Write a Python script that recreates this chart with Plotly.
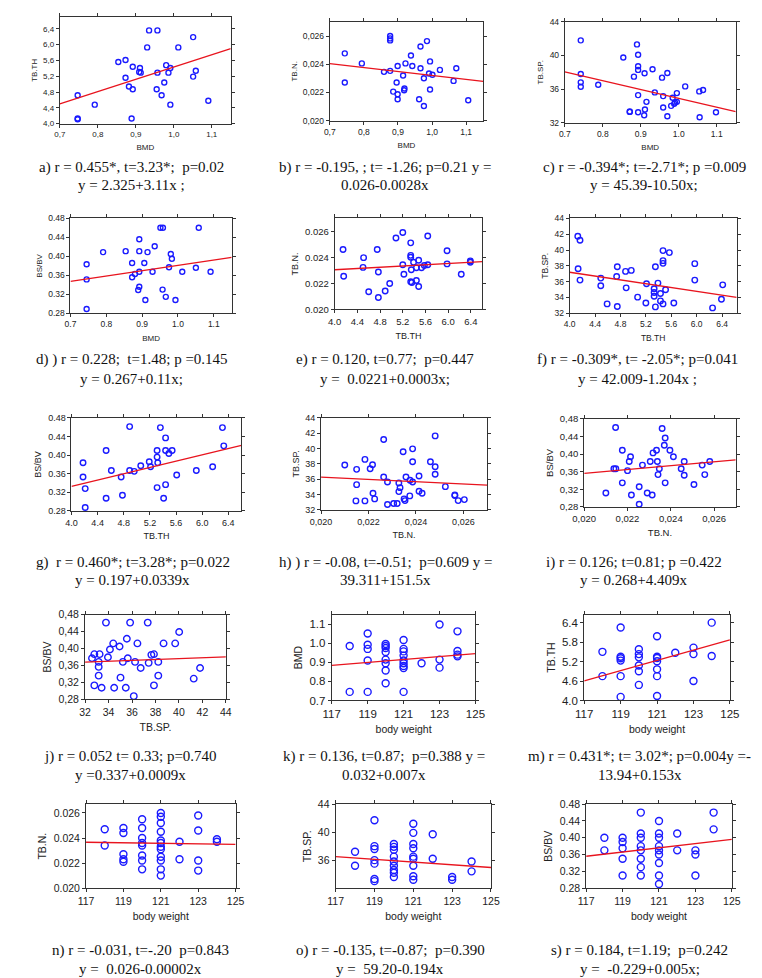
import plotly.graph_objects as go

W, H = 762, 978

# ---------------- data ----------------
# a) BMD vs TB.TH
a_x = [0.747, 0.747, 0.747, 0.792, 0.854, 0.873, 0.873, 0.882, 0.892, 0.892, 0.889, 0.909, 0.911, 0.913, 0.930,
       0.935, 0.957, 0.957, 0.955, 0.968, 0.975, 0.980, 0.986, 0.991, 0.991, 1.012, 1.051, 1.051, 1.058, 1.091]
a_y = [4.72, 4.13, 4.11, 4.48, 5.56, 5.61, 5.16, 4.94, 5.44, 4.87, 4.13, 5.31, 5.41, 5.29, 5.93,
       6.36, 6.36, 5.29, 4.87, 4.72, 5.04, 5.48, 5.29, 5.41, 4.48, 5.93, 6.19, 5.19, 5.34, 4.58]
# b) BMD vs TB.N.
b_x = [0.744, 0.744, 0.794, 0.859, 0.877, 0.877, 0.877, 0.877, 0.886, 0.896, 0.899, 0.899, 0.899, 0.915, 0.918,
       0.919, 0.922, 0.938, 0.942, 0.962, 0.966, 0.966, 0.976, 0.985, 0.991, 0.994, 0.994, 1.001, 0.976, 1.023,
       1.063, 1.071, 1.106]
b_y = [0.02477, 0.02270, 0.02406, 0.02346, 0.02600, 0.02583, 0.02569, 0.02353, 0.02206, 0.02270, 0.02387, 0.02187,
       0.02152, 0.02320, 0.02216, 0.02228, 0.02406, 0.02462, 0.02387, 0.02152, 0.02526, 0.02372, 0.02301, 0.02564,
       0.02334, 0.02420, 0.02221, 0.02325, 0.02104, 0.02360, 0.02282, 0.02372, 0.02145]
# c) BMD vs TB.SP.
c_x = [0.742, 0.742, 0.742, 0.742, 0.788, 0.854, 0.882, 0.890, 0.893, 0.893, 0.893, 0.893, 0.871, 0.871, 0.893,
       0.910, 0.911, 0.909, 0.915, 0.931, 0.937, 0.956, 0.959, 0.959, 0.970, 0.970, 0.980, 0.984, 0.988, 0.990,
       0.995, 0.995, 1.017, 1.054, 1.064, 1.055, 1.098]
c_y = [41.8, 37.8, 36.8, 36.28, 36.52, 39.76, 37.48, 41.32, 40.08, 38.72, 38.28, 35.28, 33.28, 33.32, 33.24,
       37.88, 33.56, 32.88, 34.48, 38.36, 35.6, 37.36, 35.16, 33.8, 37.92, 32.76, 34.0, 34.96, 34.24, 34.4,
       34.48, 35.52, 36.32, 35.72, 35.88, 32.64, 33.24]
# d) BMD vs BS/BV
d_x = [0.745, 0.745, 0.745, 0.791, 0.854, 0.872, 0.872, 0.880, 0.889, 0.892, 0.892, 0.892, 0.892, 0.906, 0.909,
       0.915, 0.929, 0.935, 0.951, 0.958, 0.957, 0.966, 0.975, 0.980, 0.983, 0.993, 1.012, 1.050, 1.058, 1.091]
d_y = [0.3835, 0.3515, 0.289, 0.409, 0.411, 0.386, 0.356, 0.363, 0.329, 0.336, 0.3675, 0.411, 0.436, 0.386, 0.308,
       0.409, 0.3675, 0.4215, 0.4605, 0.4605, 0.330, 0.3147, 0.377, 0.405, 0.395, 0.308, 0.3675, 0.376, 0.4605, 0.3675]
# e) TB.TH vs TB.N.
e_x = [4.148, 4.159, 4.50, 4.51, 4.60, 4.75, 4.77, 4.77, 4.89, 4.97, 5.08, 5.20, 5.20, 5.22, 5.34, 5.34, 5.34,
       5.34, 5.36, 5.35, 5.39, 5.44, 5.44, 5.48, 5.48, 5.53, 5.58, 5.64, 5.64, 5.98, 5.98, 6.23, 6.39, 6.39]
e_y = [0.02461, 0.02255, 0.02323, 0.02398, 0.02136, 0.02461, 0.02287, 0.02091, 0.02141, 0.02199, 0.02550, 0.02592,
       0.02343, 0.02270, 0.02512, 0.02416, 0.02401, 0.02212, 0.02207, 0.02305, 0.02363, 0.02320, 0.02222, 0.02378,
       0.02176, 0.02320, 0.02338, 0.02343, 0.02565, 0.02451, 0.02350, 0.02270, 0.02373, 0.02363]
# f) TB.TH vs TB.SP.
f_x = [4.128, 4.163, 4.133, 4.163, 4.49, 4.49, 4.59, 4.74, 4.75, 4.75, 4.88, 4.89, 4.97, 5.07, 5.20, 5.21, 5.33,
       5.33, 5.33, 5.35, 5.35, 5.39, 5.43, 5.43, 5.47, 5.47, 5.47, 5.47, 5.51, 5.57, 5.64, 5.97, 5.97, 6.25, 6.39, 6.41]
f_y = [41.75, 41.25, 37.64, 36.2, 36.45, 35.48, 33.19, 36.66, 37.89, 32.85, 37.3, 35.22, 37.43, 34.04, 33.31, 35.73,
       35.1, 34.63, 34.16, 37.89, 32.81, 35.82, 34.5, 33.57, 39.93, 38.66, 38.32, 33.19, 34.97, 39.68, 33.31, 38.28,
       36.2, 32.68, 33.78, 35.6]
# g) TB.TH vs BS/BV
g_x = [4.177, 4.177, 4.21, 4.21, 4.53, 4.53, 4.61, 4.76, 4.78, 4.89, 4.89, 4.96, 5.06, 5.19, 5.21, 5.31, 5.31,
       5.31, 5.32, 5.36, 5.41, 5.44, 5.44, 5.44, 5.49, 5.54, 5.61, 5.91, 6.16, 6.31, 6.33]
g_y = [0.3836, 0.3529, 0.3279, 0.2871, 0.410, 0.3071, 0.367, 0.3529, 0.3136, 0.4614, 0.367, 0.365, 0.377, 0.3857,
       0.375, 0.410, 0.3957, 0.330, 0.3836, 0.4593, 0.3071, 0.4371, 0.410, 0.3364, 0.4036, 0.410, 0.3571, 0.367,
       0.375, 0.4593, 0.420]
# h) TB.N. vs TB.SP.
h_x = [0.0210, 0.02147, 0.0215, 0.0215, 0.02185, 0.02185, 0.02207, 0.02217, 0.02219, 0.02226, 0.02264, 0.02264,
       0.0228, 0.0228, 0.02306, 0.02321, 0.02328, 0.02328, 0.02333, 0.02346, 0.0235, 0.02354, 0.02358, 0.02374,
       0.02375, 0.02386, 0.02386, 0.02386, 0.02413, 0.02413, 0.02426, 0.02461, 0.02481, 0.02481, 0.02481, 0.02524,
       0.02564, 0.02564, 0.02578, 0.02604]
h_y = [37.85, 33.17, 35.29, 37.29, 33.17, 38.59, 37.37, 37.89, 34.17, 33.43, 41.19, 36.29, 35.64, 32.69, 32.82,
       32.82, 35.51, 34.38, 34.9, 39.58, 33.43, 33.21, 36.29, 33.82, 35.86, 39.97, 38.28, 35.64, 36.42, 34.43, 34.17,
       38.28, 41.66, 37.63, 36.64, 35.03, 33.95, 33.86, 33.21, 33.34]
# i) TB.N. vs BS/BV
i_x = [0.0210, 0.02137, 0.02146, 0.02145, 0.02176, 0.02176, 0.0220, 0.02208, 0.02214, 0.02218, 0.02254, 0.02254,
       0.02269, 0.02291, 0.02305, 0.02314, 0.02318, 0.02334, 0.02338, 0.02341, 0.02347, 0.0236, 0.0237, 0.02374,
       0.02374, 0.02396, 0.02412, 0.02448, 0.02462, 0.02462, 0.02507, 0.02545, 0.02557, 0.0258]
i_y = [0.3115, 0.3669, 0.3669, 0.4605, 0.3347, 0.4088, 0.3624, 0.3834, 0.3939, 0.307, 0.286, 0.3257, 0.3751, 0.3115,
       0.3834, 0.307, 0.4028, 0.4088, 0.3834, 0.3534, 0.3669, 0.4583, 0.4201, 0.4366, 0.3347, 0.4088, 0.3939, 0.3669,
       0.3834, 0.3519, 0.3309, 0.3751, 0.3534, 0.3834]
# j) TB.SP. vs BS/BV
j_x = [32.59, 32.79, 32.79, 33.16, 33.16, 33.16, 33.24, 33.41, 33.78, 33.95, 34.12, 34.40, 34.48, 34.94, 35.02,
       35.22, 35.47, 35.56, 35.64, 35.84, 36.15, 36.26, 36.46, 36.74, 37.34, 37.42, 37.65, 37.87, 37.87, 38.24,
       38.24, 38.69, 39.68, 40.02, 41.26, 41.80]
j_y = [0.3772, 0.3867, 0.3132, 0.3685, 0.3567, 0.3361, 0.3867, 0.3077, 0.461, 0.3796, 0.3978, 0.412, 0.3077, 0.4049,
       0.3314, 0.3685, 0.3077, 0.4231, 0.3772, 0.461, 0.2879, 0.3685, 0.412, 0.3543, 0.461, 0.3662, 0.3851, 0.3867,
       0.3132, 0.3361, 0.3685, 0.412, 0.412, 0.4389, 0.329, 0.3543]
# k) body weight vs BMD
k_x = [118, 118, 119, 119, 119, 119, 119, 120, 120, 120, 120, 120, 120, 120, 120, 121, 121, 121, 121, 121, 121, 121,
       121, 121, 122, 123, 123, 123, 124, 124, 124, 124]
k_y = [0.985, 0.745, 1.051, 0.992, 0.970, 0.909, 0.745, 0.996, 0.985, 0.975, 0.954, 0.914, 0.895, 0.857, 0.790,
       1.017, 0.970, 0.957, 0.935, 0.909, 0.895, 0.881, 0.870, 0.745, 0.895, 1.098, 0.914, 0.872, 1.062, 0.959,
       0.940, 0.931]
# m) body weight vs TB.TH
m_x = [118, 118, 119, 119, 119, 119, 119, 119, 120, 120, 120, 120, 120, 120, 121, 121, 121, 121, 121, 121, 121,
       122, 123, 123, 123, 124, 124]
m_y = [5.50, 4.75, 6.25, 5.35, 5.30, 5.23, 4.75, 4.11, 5.58, 5.43, 5.33, 5.08, 4.90, 4.48, 5.98, 5.35, 5.31, 5.21,
       4.96, 4.75, 4.14, 5.47, 5.63, 5.43, 4.60, 6.40, 5.37]
# n) body weight vs TB.N.
n_x = [118, 118, 119, 119, 119, 119, 119, 120, 120, 120, 120, 120, 120, 120, 120, 121, 121, 121, 121, 121, 121,
       121, 121, 121, 121, 121, 121, 122, 122, 123, 123, 123, 123, 124, 124]
n_y = [0.0247, 0.0234, 0.0248, 0.0244, 0.0227, 0.0223, 0.0221, 0.0255, 0.0248, 0.0240, 0.0236, 0.0234, 0.0226,
       0.0222, 0.0215, 0.0260, 0.0257, 0.0252, 0.0245, 0.0238, 0.0236, 0.0233, 0.0231, 0.0225, 0.0222, 0.0215,
       0.0210, 0.0237, 0.0223, 0.0258, 0.0246, 0.0222, 0.0214, 0.0239, 0.0237]
# o) body weight vs TB.SP.
o_x = [118, 118, 119, 119, 119, 119, 119, 119, 119, 120, 120, 120, 120, 120, 120, 120, 120, 120, 121, 121, 121,
       121, 121, 121, 121, 121, 121, 122, 122, 123, 123, 124, 124]
o_y = [37.2, 35.2, 41.7, 38.0, 37.6, 36.0, 35.5, 33.3, 33.0, 38.3, 37.9, 37.5, 36.5, 35.8, 35.2, 34.6, 34.2, 33.6,
       41.2, 39.9, 38.3, 37.7, 36.5, 36.2, 35.2, 33.7, 33.2, 39.7, 36.2, 33.2, 33.6, 35.8, 34.4]
# s) body weight vs BS/BV
s_x = [118, 118, 119, 119, 119, 119, 119, 120, 120, 120, 120, 120, 120, 120, 120, 121, 121, 121, 121, 121, 121,
       121, 121, 121, 122, 122, 123, 123, 123, 124, 124]
s_y = [0.40, 0.37, 0.40, 0.39, 0.375, 0.35, 0.31, 0.46, 0.41, 0.40, 0.38, 0.37, 0.35, 0.33, 0.31, 0.44, 0.41,
       0.40, 0.38, 0.37, 0.36, 0.34, 0.31, 0.29, 0.41, 0.37, 0.37, 0.36, 0.31, 0.46, 0.42]

# fitted lines (intercept, slope) as drawn
fit_intercepts = [2.325, 0.026, 45.39, 0.268, 0.02208, 42.009, 0.197, 39.311, 0.268, 0.3355, -0.005, -13.82,
                  0.026, 59.20, -0.229]
fit_slopes = [3.11, -0.0028, -10.50, 0.113, 0.000242, -1.204, 0.0339, -151.5, 4.409, 0.00102, 0.0076, 0.1575,
              -0.00002, -0.194, 0.005]

captions = [
    ("a) r = 0.455*, t=3.23*;  p=0.02", "y = 2.325+3.11x ;"),
    ("b) r = -0.195, ; t= -1.26; p=0.21 y =", "0.026-0.0028x"),
    ("c) r = -0.394*; t=-2.71*; p =0.009", "y = 45.39-10.50x;"),
    ("d) ) r = 0.228;  t=1.48; p =0.145", "y = 0.267+0.11x;"),
    ("e) r = 0.120, t=0.77;  p=0.447", "y =  0.0221+0.0003x;"),
    ("f) r = -0.309*, t= -2.05*; p=0.041", "y = 42.009-1.204x ;"),
    ("g)  r = 0.460*; t=3.28*; p=0.022", "y = 0.197+0.0339x"),
    ("h) ) r = -0.08, t=-0.51;  p=0.609 y =", "39.311+151.5x"),
    ("i) r = 0.126; t=0.81; p =0.422", "y = 0.268+4.409x"),
    ("j) r = 0.052 t= 0.33; p=0.740", "y =0.337+0.0009x"),
    ("k) r = 0.136, t=0.87;  p=0.388 y =", "0.032+0.007x"),
    ("m) r = 0.431*; t= 3.02*; p=0.004y =-", "13.94+0.153x"),
    ("n) r = -0.031, t=-.20  p=0.843", "y =  0.026-0.00002x"),
    ("o) r = -0.135, t=-0.87;  p=0.390", "y =  59.20-0.194x"),
    ("s) r = 0.184, t=1.19;  p=0.242", "y =  -0.229+0.005x;"),
]

x_titles = ["BMD", "BMD", "BMD", "BMD", "TB.TH", "TB.TH", "TB.TH", "TB.N.", "TB.N.", "TB.SP.",
            "body weight", "body weight", "body weight", "body weight", "body weight"]
y_titles = ["TB.TH", "TB.N.", "TB.SP.", "BS/BV", "TB.N.", "TB.SP.", "BS/BV", "TB.SP.", "BS/BV", "BS/BV",
            "BMD", "TB.TH", "TB.N.", "TB.SP.", "BS/BV"]

xs = [a_x, b_x, c_x, d_x, e_x, f_x, g_x, h_x, i_x, j_x, k_x, m_x, n_x, o_x, s_x]
ys = [a_y, b_y, c_y, d_y, e_y, f_y, g_y, h_y, i_y, j_y, k_y, m_y, n_y, o_y, s_y]

# ---------------- layout / style ----------------
# pixel box of each plot area: left, right, top, bottom
boxes = [(41, 217, 3, 111), (319, 477, 8, 108), (561, 737, 8, 110),
         (52, 218, 207, 303), (324, 476, 207, 299), (566, 738, 207, 303),
         (53, 228, 409, 503), (310, 481, 409, 502), (581, 737, 410, 499),
         (67, 212, 608, 694), (321, 469, 608, 695), (581, 731, 608, 695),
         (68, 222, 800, 885), (325, 485, 800, 885), (583, 733, 800, 885)]
# x axis: range, tick start, tick end, step, decimals, comma
xax = [((0.7, 1.15), 0.7, 1.1, 0.1, 1, True), ((0.7, 1.15), 0.7, 1.1, 0.1, 1, True),
       ((0.7, 1.15), 0.7, 1.1, 0.1, 1, False), ((0.7, 1.15), 0.7, 1.1, 0.1, 1, False),
       ((4.0, 6.6), 4.0, 6.4, 0.4, 1, False), ((4.0, 6.63), 4.0, 6.4, 0.4, 1, False),
       ((4.0, 6.6), 4.0, 6.4, 0.4, 1, False), ((0.020, 0.027), 0.020, 0.026, 0.002, 3, True),
       ((0.020, 0.027), 0.020, 0.026, 0.002, 3, True), ((32, 44), 32, 44, 2, 0, False),
       ((117, 125), 117, 125, 2, 0, False), ((117, 125), 117, 125, 2, 0, False),
       ((117, 125), 117, 125, 2, 0, False), ((117, 125), 117, 125, 2, 0, False),
       ((117, 125), 117, 125, 2, 0, False)]
yax = [((4.0, 6.7), 4.0, 6.4, 0.4, 1, True), ((0.020, 0.027), 0.020, 0.026, 0.002, 3, True),
       ((32, 44), 32, 44, 4, 0, False), ((0.28, 0.48), 0.28, 0.48, 0.04, 2, False),
       ((0.020, 0.027), 0.020, 0.026, 0.002, 3, False), ((32, 44), 32, 44, 2, 0, False),
       ((0.28, 0.48), 0.28, 0.48, 0.04, 2, False), ((32, 44), 32, 44, 2, 0, False),
       ((0.28, 0.48), 0.28, 0.48, 0.04, 2, True), ((0.28, 0.48), 0.28, 0.48, 0.04, 2, True),
       ((0.7, 1.15), 0.7, 1.1, 0.1, 1, False), ((4.0, 6.65), 4.0, 6.4, 0.6, 1, False),
       ((0.020, 0.0267), 0.020, 0.026, 0.002, 3, False), ((32, 44), 36, 44, 4, 0, False),
       ((0.28, 0.48), 0.28, 0.48, 0.04, 2, False)]
tick_sizes = [8, 8.5, 8.5, 8.5, 9.5, 8.5, 9, 9, 9.5, 10.5, 11.5, 11.5, 10.5, 10.5, 10.5]
title_sizes = [8, 8, 8, 8, 9, 8.5, 9, 9, 9.5, 10.5, 10.5, 10.5, 10.5, 10.5, 10.5]
marker_sizes = [5, 5, 5, 5, 5.5, 5.5, 5.5, 5.5, 5.5, 6.5, 7, 7, 7, 7, 7]
cap_x = [115, 376, 643, 115, 376, 636, 116, 376, 632, 114, 375, 638, 124, 381, 638]
cap_y = [(155, 173), (155, 173), (155, 173), (350, 370), (350, 370), (350, 370),
         (555, 573), (555, 573), (555, 573), (752, 770), (752, 770), (752, 770),
         (948, 967), (948, 967), (948, 967)]


def ticks(start, end, step, dec, comma):
    vals, texts = [], []
    n = int(round((end - start) / step))
    for k in range(n + 1):
        v = round(start + k * step, 6)
        t = f"{v:.{dec}f}"
        if comma:
            t = t.replace(".", ",")
        vals.append(v)
        texts.append(t)
    return vals, texts


fig = go.Figure()
layout = dict(width=W, height=H, margin=dict(l=0, r=0, t=0, b=0), paper_bgcolor="white",
              plot_bgcolor="white", showlegend=False, annotations=[])
BLUE = "#1a1aff"
RED = "#e8141e"

for idx in range(15):
    sfx = "" if idx == 0 else str(idx + 1)
    L, R, T, B = boxes[idx]
    xr, xs0, xs1, xst, xd, xc = xax[idx]
    yr, ys0, ys1, yst, yd, yc = yax[idx]
    xv, xt = ticks(xs0, xs1, xst, xd, xc)
    yv, yt = ticks(ys0, ys1, yst, yd, yc)
    fig.add_trace(go.Scatter(x=xs[idx], y=ys[idx], mode="markers", xaxis="x" + sfx, yaxis="y" + sfx,
                             marker=dict(symbol="circle-open", size=marker_sizes[idx], color=BLUE,
                                         line=dict(width=1.4, color=BLUE)), cliponaxis=False))
    lx = [xr[0], xr[1]]
    ly = [fit_intercepts[idx] + fit_slopes[idx] * v for v in lx]
    fig.add_trace(go.Scatter(x=lx, y=ly, mode="lines", xaxis="x" + sfx, yaxis="y" + sfx,
                             line=dict(color=RED, width=1.3)))
    tf = dict(family="Liberation Sans, Arial, sans-serif", size=tick_sizes[idx], color="#222")
    common = dict(showline=True, linecolor="#333", linewidth=1, mirror="ticks", ticks="outside",
                  ticklen=3, tickwidth=1, tickcolor="#333", showgrid=False, zeroline=False,
                  tickfont=tf)
    layout["xaxis" + sfx] = dict(common, domain=[L / W, R / W], range=list(xr), anchor="y" + sfx,
                                 tickmode="array", tickvals=xv, ticktext=xt,
                                 title=dict(text=x_titles[idx], standoff=6,
                                            font=dict(family="Liberation Sans, Arial, sans-serif",
                                                      size=title_sizes[idx], color="#222")))
    layout["yaxis" + sfx] = dict(common, domain=[1 - B / H, 1 - T / H], range=list(yr), anchor="x" + sfx,
                                 tickmode="array", tickvals=yv, ticktext=yt,
                                 title=dict(text=y_titles[idx], standoff=4,
                                            font=dict(family="Liberation Sans, Arial, sans-serif",
                                                      size=title_sizes[idx], color="#222")))
    for line_i in range(2):
        layout["annotations"].append(dict(
            text=captions[idx][line_i], xref="paper", yref="paper", x=cap_x[idx] / W,
            y=1 - cap_y[idx][line_i] / H, xanchor="center", yanchor="middle", showarrow=False,
            font=dict(family="Liberation Serif, Times New Roman, serif", size=15, color="#111")))

fig.update_layout(**layout)
fig.write_html("out.html")
